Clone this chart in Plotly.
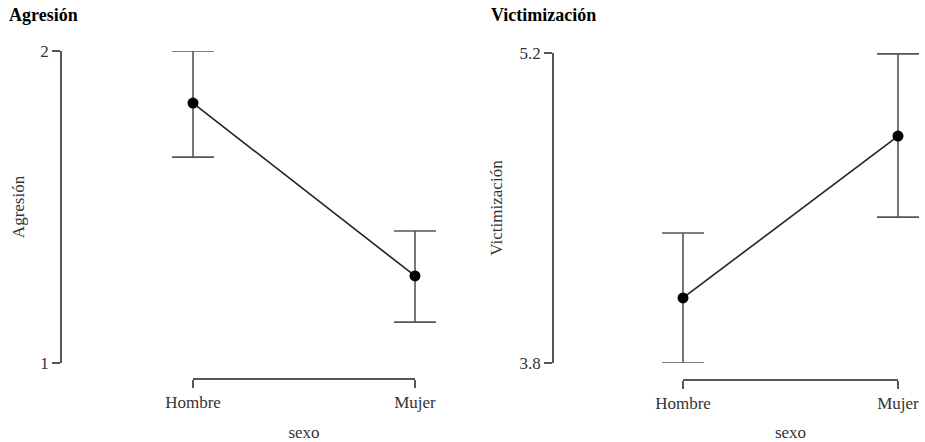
import plotly.graph_objects as go

W, H = 925, 442

categories = ["Hombre", "Mujer"]
agresion_mean = [1.833, 1.279]
agresion_upper = [2.0, 1.423]
agresion_lower = [1.66, 1.131]
victim_mean = [4.094, 4.825]
victim_upper = [4.387, 5.196]
victim_lower = [3.8, 4.459]
agresion_ticks = [1, 2]
victim_ticks = [3.8, 5.2]

FONT = "Liberation Serif, 'Times New Roman', Times, serif"
AXC = "#555555"
TXT = "#333333"
PAD = 0.12  # category padding for the data axes


def px_x(p):
    return p / W


def px_y(p):
    return 1 - p / H


def padded_domain(a, b):
    unit = b - a
    return [max(0.0, px_x(a - PAD * unit)), min(1.0, px_x(b + PAD * unit))]


fig = go.Figure()


def add_panel(mean, upper, lower, xa, ya, xdeco):
    plus = [u - m for u, m in zip(upper, mean)]
    minus = [m - l for m, l in zip(mean, lower)]
    # carrier for the bracket-style category axis (no visible marks)
    fig.add_trace(go.Scatter(
        x=categories, y=[None, None], mode="markers", showlegend=False,
        hoverinfo="skip", xaxis=xdeco, yaxis=ya,
    ))
    fig.add_trace(go.Scatter(
        x=categories, y=mean, mode="lines+markers",
        line=dict(color="#222222", width=1.6),
        marker=dict(color="#000000", size=11),
        error_y=dict(type="data", array=plus, arrayminus=minus, symmetric=False,
                     color=AXC, thickness=1.6, width=21),
        cliponaxis=False, showlegend=False, hoverinfo="y", xaxis=xa, yaxis=ya,
    ))


add_panel(agresion_mean, agresion_upper, agresion_lower, "x", "y", "x3")
add_panel(victim_mean, victim_upper, victim_lower, "x2", "y2", "x4")

data_x = dict(type="category", range=[-PAD, 1 + PAD], showline=False, showticklabels=False,
              ticks="", showgrid=False, zeroline=False, automargin=False)
deco_x = dict(type="category", range=[0, 1], showline=True, linecolor=AXC, linewidth=1.5,
              ticks="outside", ticklen=8, tickcolor=AXC, tickwidth=1.5,
              showgrid=False, zeroline=False, anchor="free", automargin=False,
              tickfont=dict(family=FONT, size=17, color=TXT),
              title=dict(text="sexo", font=dict(family=FONT, size=17, color=TXT), standoff=14))
common_y = dict(showline=True, linecolor=AXC, linewidth=1.5,
                ticks="outside", ticklen=8, tickcolor=AXC, tickwidth=1.5,
                showgrid=False, zeroline=False, anchor="free", automargin=False,
                tickfont=dict(family=FONT, size=17, color=TXT))

fig.update_layout(
    width=W, height=H,
    margin=dict(l=0, r=0, t=0, b=0, autoexpand=False),
    paper_bgcolor="white", plot_bgcolor="rgba(0,0,0,0)",
    font=dict(family=FONT, size=17, color=TXT),
    xaxis=dict(data_x, domain=padded_domain(193, 415), anchor="y"),
    xaxis2=dict(data_x, domain=padded_domain(683, 898), anchor="y2"),
    xaxis3=dict(deco_x, domain=[px_x(193), px_x(415)], position=px_y(379)),
    xaxis4=dict(deco_x, domain=[px_x(683), px_x(898)], position=px_y(380)),
    yaxis=dict(common_y, domain=[px_y(363), px_y(51)], range=[1, 2], position=px_x(61),
               tickvals=agresion_ticks,
               title=dict(text="Agresión", font=dict(family=FONT, size=17, color=TXT), standoff=10)),
    yaxis2=dict(common_y, domain=[px_y(363), px_y(53)], range=[3.8, 5.2], position=px_x(553),
                tickvals=victim_ticks, tickformat=".1f",
                title=dict(text="Victimización", font=dict(family=FONT, size=17, color=TXT), standoff=12)),
    annotations=[
        dict(text="<b>Agresión</b>", x=px_x(7), y=px_y(15), xref="paper", yref="paper",
             xanchor="left", yanchor="middle", showarrow=False,
             font=dict(family=FONT, size=18, color="#000000")),
        dict(text="<b>Victimización</b>", x=px_x(489), y=px_y(15), xref="paper", yref="paper",
             xanchor="left", yanchor="middle", showarrow=False,
             font=dict(family=FONT, size=18, color="#000000")),
    ],
)

# remove the browser's default page margin so the figure fills the window exactly
fig.write_html("out.html", config={"displayModeBar": False},
               post_script="document.body.style.margin='0';")
